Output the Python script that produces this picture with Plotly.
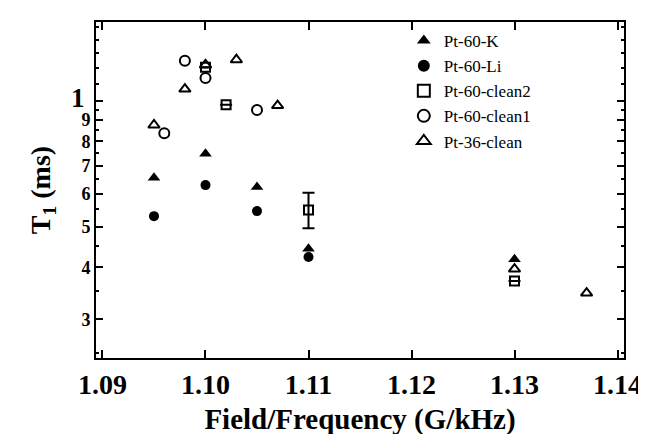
import plotly.graph_objects as go

# ---- data ----
k_x = [1.095, 1.100, 1.105, 1.110, 1.130]
k_y = [6.55, 7.48, 6.22, 4.43, 4.18]

li_x = [1.095, 1.100, 1.105, 1.110]
li_y = [5.30, 6.29, 5.45, 4.23]

c2_x = [1.100, 1.102, 1.110, 1.130]
c2_y = [12.04, 9.80, 5.48, 3.71]
c2_err_plus = [None, None, 0.55, None]
c2_err_minus = [None, None, 0.52, None]

c1_x = [1.096, 1.098, 1.100, 1.105]
c1_y = [8.37, 12.48, 11.35, 9.51]

t36_x = [1.095, 1.098, 1.100, 1.103, 1.107, 1.130, 1.137]
t36_y = [8.76, 10.68, 12.2, 12.55, 9.75, 3.96, 3.47]

x_ticks = [1.09, 1.10, 1.11, 1.12, 1.13, 1.14]
x_ticktext = ["1.09", "1.10", "1.11", "1.12", "1.13", "1.14"]
y_ticks = [3, 4, 5, 6, 7, 8, 9, 10]
y_ticktext = ["3", "4", "5", "6", "7", "8", "9", "1"]
y_minor = [2.5, 3.5, 4.5, 5.5, 6.5, 7.5, 8.5, 9.5, 11, 12, 13, 14, 15]

FONT = "Liberation Serif"
BLACK = "black"

fig = go.Figure()
fig.add_trace(go.Scatter(x=k_x, y=k_y, mode="markers", name="Pt-60-K",
                         marker=dict(symbol="triangle-up", size=11, color=BLACK)))
fig.add_trace(go.Scatter(x=li_x, y=li_y, mode="markers", name="Pt-60-Li",
                         marker=dict(symbol="circle", size=10, color=BLACK)))
fig.add_trace(go.Scatter(x=c2_x, y=c2_y, mode="markers", name="Pt-60-clean2",
                         marker=dict(symbol="square-open", size=9, color=BLACK,
                                     line=dict(width=2, color=BLACK)),
                         error_y=dict(type="data", symmetric=False,
                                      array=c2_err_plus, arrayminus=c2_err_minus,
                                      color=BLACK, thickness=2, width=6)))
fig.add_trace(go.Scatter(x=c1_x, y=c1_y, mode="markers", name="Pt-60-clean1",
                         marker=dict(symbol="circle-open", size=10, color=BLACK,
                                     line=dict(width=2, color=BLACK))))
fig.add_trace(go.Scatter(x=t36_x, y=t36_y, mode="markers", name="Pt-36-clean",
                         marker=dict(symbol="triangle-up-open", size=10, color=BLACK,
                                     line=dict(width=2, color=BLACK))))

y_ticktext_html = [
    ("<span style='font-size:27px'><b>" + t + "</b></span>"
     "<span style='font-size:12px'>\u00a0\u00a0</span>") if v == 10 else "<b>" + t + "</b>"
    for t, v in zip(y_ticktext, y_ticks)
]
x_ticktext_html = ["<b>" + t + "</b>" for t in x_ticktext]

fig.update_layout(
    width=646, height=434,
    margin=dict(l=88, r=22, t=14, b=80),
    paper_bgcolor="white", plot_bgcolor="white",
    font=dict(family=FONT, color=BLACK),
    showlegend=True,
    legend=dict(x=0.583, y=0.997, xanchor="left", yanchor="top",
                bgcolor="rgba(0,0,0,0)", font=dict(family=FONT, size=17, color=BLACK),
                tracegroupgap=0, itemsizing="constant"),
    xaxis=dict(
        range=[1.08937, 1.14063], tickmode="array", tickvals=x_ticks, ticktext=x_ticktext_html,
        ticks="inside", ticklen=8, tickwidth=1.5, tickcolor=BLACK,
        showline=True, linecolor=BLACK, linewidth=2, mirror="ticks",
        showgrid=False, zeroline=False,
        tickfont=dict(family=FONT, size=28, color=BLACK),
        title=dict(text="<b>Field/Frequency (G/kHz)</b>", font=dict(family=FONT, size=29, color=BLACK),
                   standoff=10),
    ),
    yaxis=dict(
        type="log", range=[0.3848, 1.189], tickmode="array", tickvals=y_ticks,
        ticktext=y_ticktext_html,
        ticks="inside", ticklen=7, tickwidth=1.5, tickcolor=BLACK,
        minor=dict(tickmode="array", tickvals=y_minor, ticks="inside", ticklen=3,
                   tickcolor=BLACK, showgrid=False),
        showline=True, linecolor=BLACK, linewidth=2, mirror="ticks",
        showgrid=False, zeroline=False,
        tickfont=dict(family=FONT, size=18, color=BLACK),
        title=dict(text="<b>T<sub>1</sub> (ms)</b>", font=dict(family=FONT, size=28, color=BLACK),
                   standoff=12),
    ),
)

fig.write_html("out.html")
